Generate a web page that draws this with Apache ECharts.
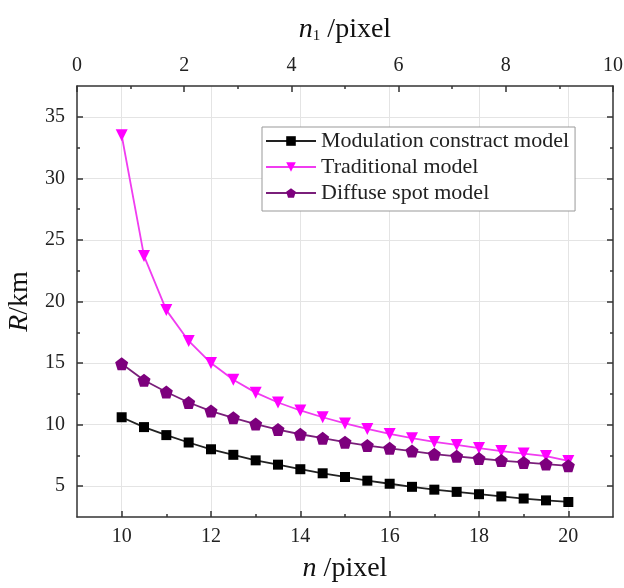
<!DOCTYPE html>
<html>
<head>
<meta charset="utf-8">
<script src="https://cdn.jsdelivr.net/npm/echarts@6/dist/echarts.min.js"></script>
<style>html,body{margin:0;padding:0;background:#fff}#c{width:624px;height:588px}</style>
</head>
<body>
<div id="c"></div>
<script>
// ---- data ----
const nValues = [10, 10.5, 11, 11.5, 12, 12.5, 13, 13.5, 14, 14.5, 15, 15.5, 16, 16.5, 17, 17.5, 18, 18.5, 19, 19.5, 20];
const modulation = [10.6, 9.8, 9.15, 8.55, 8.0, 7.55, 7.1, 6.75, 6.38, 6.05, 5.75, 5.45, 5.2, 4.95, 4.72, 4.54, 4.35, 4.17, 4.0, 3.85, 3.72];
const traditional = [33.5, 23.7, 19.3, 16.8, 15.0, 13.65, 12.6, 11.8, 11.15, 10.6, 10.1, 9.65, 9.25, 8.9, 8.6, 8.35, 8.1, 7.85, 7.65, 7.45, 7.05];
const diffuse = [14.95, 13.6, 12.65, 11.8, 11.1, 10.55, 10.05, 9.6, 9.22, 8.9, 8.58, 8.3, 8.08, 7.85, 7.6, 7.43, 7.25, 7.08, 6.93, 6.8, 6.66];
const seriesNames = ['Modulation constract model', 'Traditional model', 'Diffuse spot model'];
const bottomTicks = [10, 12, 14, 16, 18, 20];
const bottomMinor = [11, 13, 15, 17, 19];
const yTicks = [5, 10, 15, 20, 25, 30, 35];
const yMinor = [7.5, 12.5, 17.5, 22.5, 27.5, 32.5];

const FONT = '"Liberation Serif", "Times New Roman", serif';
const AX = '#333';
const zip = (xs, ys) => xs.map((x, i) => [x, ys[i]]);
const pentagon = 'path://M0,-1 L0.951,-0.309 L0.588,0.809 L-0.588,0.809 L-0.951,-0.309 Z';

const chart = echarts.init(document.getElementById('c'), null, {renderer: 'canvas'});
const lineAx = {show: true, lineStyle: {color: AX, width: 1.5}};
const noLine = {show: false};
const lbl = {color: '#222', fontFamily: FONT, fontSize: 20};
const TS = 28;

chart.setOption({
  animation: false,
  backgroundColor: '#fff',
  grid: {left: 77, right: 11, top: 86, bottom: 71, containLabel: false, outerBoundsMode: 'none'},
  legend: {
    orient: 'vertical', left: 262, top: 127,
    data: seriesNames,
    itemWidth: 50, itemHeight: 12, itemGap: 4,
    padding: [3, 6, 7, 3],
    borderColor: '#999', borderWidth: 1, backgroundColor: '#fff',
    textStyle: {fontFamily: FONT, fontSize: 22, color: '#222', padding: [0, 0, 0, 0]}
  },
  xAxis: [
    {
      type: 'value', position: 'bottom', min: 9, max: 21,
      axisLine: lineAx,
      axisTick: {inside: true, length: 6, lineStyle: {color: AX, width: 1.5}, customValues: bottomTicks},
      axisLabel: Object.assign({margin: 10, customValues: bottomTicks}, lbl),
      splitLine: {show: true, lineStyle: {color: '#e4e4e4', width: 1}},
      name: '{i|n}{t| /pixel}', nameLocation: 'middle', nameGap: 38,
      nameTextStyle: {rich: {i: {fontFamily: FONT, fontStyle: 'italic', fontSize: TS, color: '#111'}, t: {fontFamily: FONT, fontSize: TS, color: '#111'}}}
    },
    {
      type: 'value', position: 'bottom', min: 9, max: 21,
      axisLine: noLine,
      axisTick: {inside: true, length: 3, lineStyle: {color: AX, width: 1.5}, customValues: bottomMinor},
      axisLabel: {show: false}, splitLine: {show: false}
    },
    {
      type: 'value', position: 'top', min: 0, max: 10, interval: 2,
      axisLine: lineAx,
      axisTick: {inside: true, length: 6, lineStyle: {color: AX, width: 1.5}},
      minorTick: {show: true, splitNumber: 2, length: 3, lineStyle: {color: AX, width: 1.5}},
      axisLabel: Object.assign({margin: 10}, lbl),
      splitLine: {show: false},
      name: '{i|n}{s|1}{t| /pixel}', nameLocation: 'middle', nameGap: 42,
      nameTextStyle: {rich: {
        i: {fontFamily: FONT, fontStyle: 'italic', fontSize: TS, color: '#111', verticalAlign: 'bottom', lineHeight: 32},
        s: {fontFamily: FONT, fontSize: 15, color: '#111', verticalAlign: 'bottom', lineHeight: 26},
        t: {fontFamily: FONT, fontSize: TS, color: '#111', verticalAlign: 'bottom', lineHeight: 32}
      }}
    }
  ],
  yAxis: [
    {
      type: 'value', position: 'left', min: 2.5, max: 37.5,
      axisLine: lineAx,
      axisTick: {inside: true, length: 6, lineStyle: {color: AX, width: 1.5}, customValues: yTicks},
      axisLabel: Object.assign({margin: 12, customValues: yTicks}, lbl),
      splitLine: {show: true, lineStyle: {color: '#e4e4e4', width: 1}},
      name: '{i|R}{t|/km}', nameLocation: 'middle', nameGap: 38, nameRotate: 90,
      nameTextStyle: {rich: {i: {fontFamily: FONT, fontStyle: 'italic', fontSize: TS, color: '#111'}, t: {fontFamily: FONT, fontSize: TS, color: '#111'}}}
    },
    {
      type: 'value', position: 'left', min: 2.5, max: 37.5,
      axisLine: noLine,
      axisTick: {inside: true, length: 3, lineStyle: {color: AX, width: 1.5}, customValues: yMinor},
      axisLabel: {show: false}, splitLine: {show: false}
    },
    {
      type: 'value', position: 'right', min: 2.5, max: 37.5,
      axisLine: lineAx,
      axisTick: {inside: true, length: 6, lineStyle: {color: AX, width: 1.5}, customValues: yTicks},
      axisLabel: {show: false}, splitLine: {show: false}
    },
    {
      type: 'value', position: 'right', min: 2.5, max: 37.5,
      axisLine: noLine,
      axisTick: {inside: true, length: 3, lineStyle: {color: AX, width: 1.5}, customValues: yMinor},
      axisLabel: {show: false}, splitLine: {show: false}
    }
  ],
  series: [
    {
      name: seriesNames[0], type: 'line', xAxisIndex: 0, yAxisIndex: 0,
      data: zip(nValues, modulation),
      symbol: 'rect', symbolSize: 10,
      lineStyle: {color: '#222', width: 1.8},
      itemStyle: {color: '#000'}
    },
    {
      name: seriesNames[1], type: 'line', xAxisIndex: 0, yAxisIndex: 0,
      data: zip(nValues, traditional),
      symbol: 'triangle', symbolRotate: 180, symbolSize: 12,
      lineStyle: {color: '#f03cf0', width: 1.8},
      itemStyle: {color: '#ff00ff'}
    },
    {
      name: seriesNames[2], type: 'line', xAxisIndex: 0, yAxisIndex: 0,
      data: zip(nValues, diffuse),
      symbol: pentagon, symbolSize: 13,
      lineStyle: {color: '#7a1f7a', width: 1.8},
      itemStyle: {color: '#7d007d'}
    }
  ]
});
</script>
</body>
</html>
